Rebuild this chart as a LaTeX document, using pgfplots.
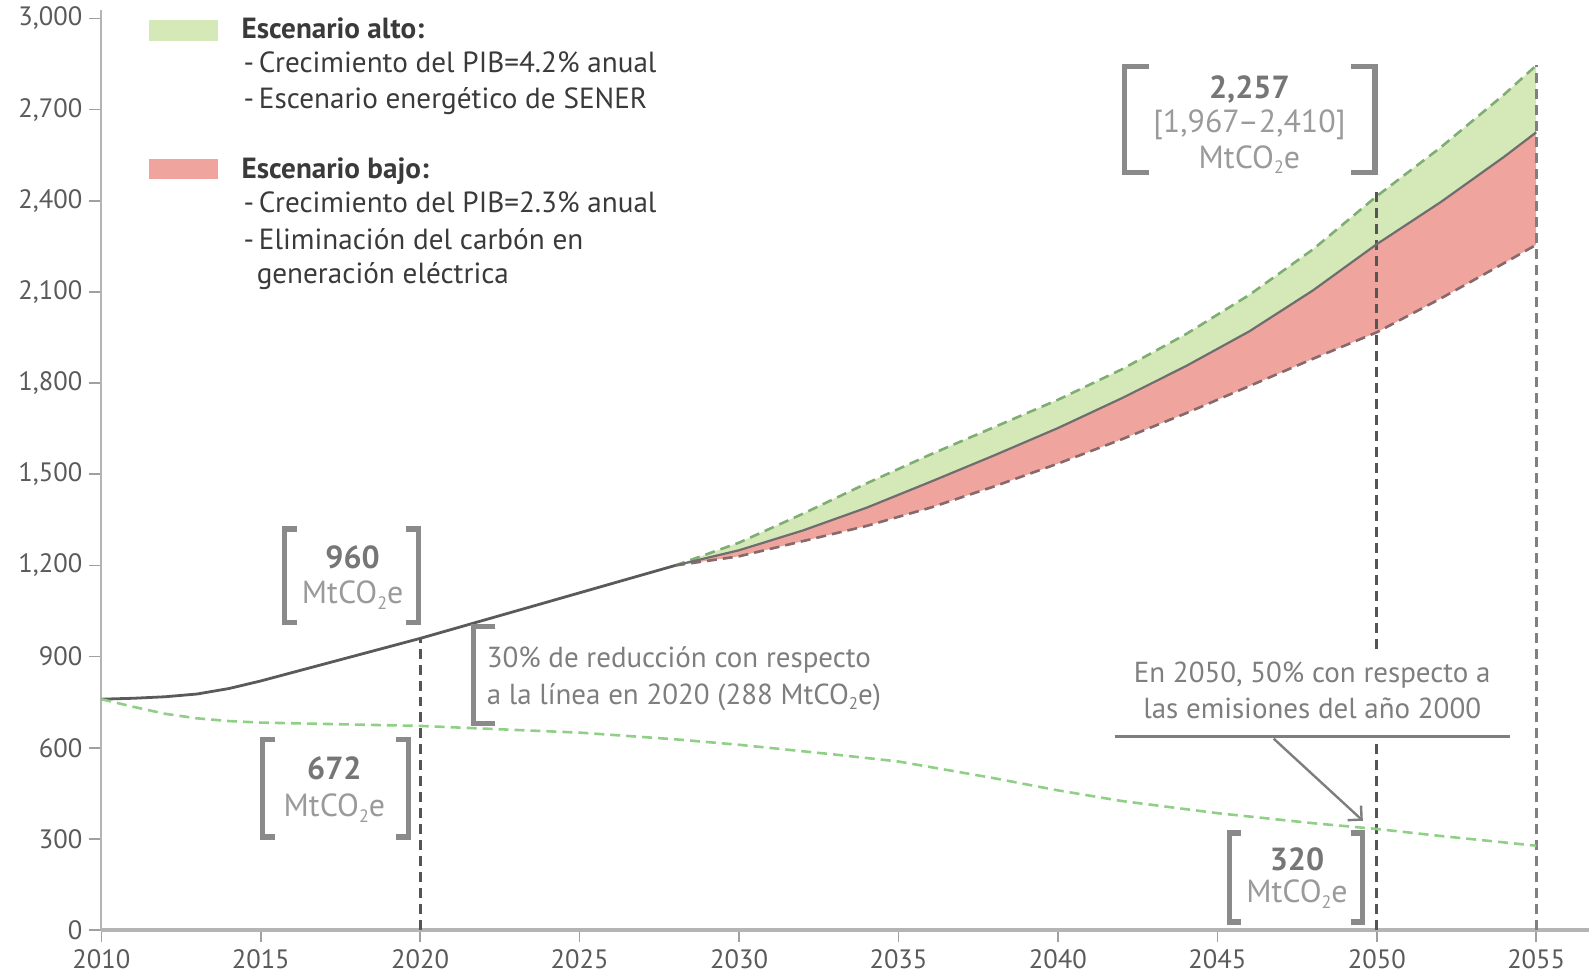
\documentclass[border=0pt]{standalone}
\usepackage{fontspec}
\setmainfont{PT Sans}
\usepackage{pgfplots}
\pgfplotsset{compat=1.18}
\usepgfplotslibrary{fillbetween}
\usetikzlibrary{arrows.meta}

\definecolor{greenfill}{HTML}{D4E8B8}
\definecolor{redfill}{HTML}{EFA59E}
\definecolor{upline}{HTML}{7FAE74}
\definecolor{lowline}{HTML}{86696B}
\definecolor{midline}{HTML}{6E6E6E}
\definecolor{basegray}{HTML}{5A5A5A}
\definecolor{target}{HTML}{8FCF86}
\definecolor{vline}{HTML}{555555}
\definecolor{axisgray}{HTML}{B4B4B4}
\definecolor{tickgray}{HTML}{A0A0A0}
\definecolor{labgray}{HTML}{5A5A5A}
\definecolor{brkgray}{HTML}{8A8A8A}
\definecolor{numgray}{HTML}{767676}
\definecolor{unitgray}{HTML}{9A9A9A}
\definecolor{notegray}{HTML}{7E7E7E}
\definecolor{leggray}{HTML}{3A3A3A}

\pgfplotstableread{
x y
2010 760
2011 763
2012 768
2013 777
2014 795
2015 820
2016 848
2017 876
2018 904
2019 932
2020 960
2021 990
2022 1020
2023 1050
2024 1080
2025 1110
2026 1140
2027 1170
2028 1200
}\basetab

\pgfplotstableread{
x y
2028 1200
2030 1250
2032 1315
2034 1390
2036 1475
2038 1562
2040 1652
2042 1750
2044 1855
2046 1970
2048 2105
2050 2257
2052 2395
2054 2545
2055 2625
}\midtab

\pgfplotstableread{
x y
2028 1200
2030 1275
2032 1370
2034 1470
2036 1565
2038 1655
2040 1745
2042 1845
2044 1960
2046 2090
2048 2240
2050 2415
2052 2575
2054 2750
2055 2845
}\uptab

\pgfplotstableread{
x y
2028 1200
2030 1230
2032 1280
2034 1330
2036 1390
2038 1460
2040 1535
2042 1615
2044 1700
2046 1790
2048 1880
2050 1967
2052 2078
2054 2195
2055 2255
}\lowtab

\pgfplotstableread{
x y
2010 760
2011 735
2012 712
2013 697
2014 688
2015 683
2020 672
2025 650
2028 628
2030 610
2033 578
2035 555
2038 500
2040 460
2042 425
2045 385
2048 352
2050 333
2052 310
2055 278
}\targettab

\newcommand\lbr[4]{\draw[brk] (#1+#4,#2) -- (#1,#2) -- (#1,#3) -- (#1+#4,#3);}
\newcommand\sub{\raisebox{-0.35ex}{\fontsize{9}{9}\selectfont 2}}
\newcommand\subs{\raisebox{-0.35ex}{\fontsize{8.5}{9}\selectfont 2}}

\begin{document}
\begin{tikzpicture}[
  brk/.style={line width=2.6pt, color=brkgray, line cap=butt, line join=miter},
  num/.style={anchor=base, inner sep=0pt, text=numgray, font=\fontsize{16}{19}\selectfont\bfseries},
  unit/.style={anchor=base, inner sep=0pt, text=unitgray, font=\fontsize{16}{19}\selectfont},
  note/.style={anchor=base west, inner sep=0pt, text=notegray, font=\fontsize{14.5}{17}\selectfont},
  notec/.style={anchor=base, inner sep=0pt, text=notegray, font=\fontsize{14.5}{17}\selectfont},
  leg/.style={anchor=base west, inner sep=0pt, text=leggray, font=\fontsize{14.6}{17}\selectfont},
  legh/.style={anchor=base west, inner sep=0pt, text=leggray, font=\fontsize{14.6}{17}\selectfont\bfseries},
]
\begin{scope}[x=0.50734pt,y=-0.50734pt,shift={(-50.734pt,465.74pt)}]
\useasboundingbox (0,0) rectangle (1568,966);
\end{scope}

\begin{axis}[
  at={(0,0)}, anchor=south west,
  scale only axis, width=744.77pt, height=460.66pt,
  xmin=2010, xmax=2056.65, ymin=0, ymax=3027,
  axis x line=bottom, axis y line=left,
  x axis line style={-, line width=2.2pt, color=axisgray},
  y axis line style={-, line width=1pt, color=axisgray},
  xtick={2010,2015,...,2055}, ytick={0,300,...,3000},
  tick align=outside, major tick length=6pt,
  major tick style={line width=0.8pt, color=tickgray},
  /pgf/number format/assume math mode=true,
  xticklabel style={/pgf/number format/1000 sep={}},
  yticklabel style={/pgf/number format/1000 sep={,}},
  tick label style={font=\fontsize{13.3}{16}\selectfont, text=labgray},
  clip=false,
]
\addplot[name path=up, draw=none, forget plot] table[x=x,y=y] {\uptab};
\addplot[name path=mid, draw=none, forget plot] table[x=x,y=y] {\midtab};
\addplot[name path=low, draw=none, forget plot] table[x=x,y=y] {\lowtab};
\addplot[fill=greenfill, draw=none, forget plot] fill between[of=up and mid];
\addplot[fill=redfill, draw=none, forget plot] fill between[of=mid and low];

% vertical reference lines
\addplot[vline, line width=1.4pt, dash pattern=on 5pt off 3pt, forget plot] coordinates {(2020,0) (2020,960)};
\addplot[vline, line width=1.4pt, dash pattern=on 5pt off 3pt, forget plot] coordinates {(2050,0) (2050,635)};
\addplot[vline, line width=1.4pt, dash pattern=on 5pt off 3pt, forget plot] coordinates {(2050,925) (2050,2430)};
\addplot[vline!75, line width=1.4pt, dash pattern=on 5pt off 3pt, forget plot] coordinates {(2055,0) (2055,2845)};

\addplot[upline, line width=1.3pt, dash pattern=on 5pt off 3pt] table[x=x,y=y] {\uptab};
\addplot[lowline, line width=1.3pt, dash pattern=on 5pt off 3pt] table[x=x,y=y] {\lowtab};
\addplot[midline, line width=1.1pt] table[x=x,y=y] {\midtab};
\addplot[basegray, line width=1.4pt] table[x=x,y=y] {\basetab};
\addplot[target, line width=1.3pt, dash pattern=on 5pt off 3pt] table[x=x,y=y] {\targettab};
\end{axis}

\begin{scope}[x=0.50734pt,y=-0.50734pt,shift={(-50.734pt,465.74pt)}]
% legend
\fill[greenfill] (147,20) rectangle (215,40);
\fill[redfill] (147,157) rectangle (215,177);
\node[legh] at (238,38) {Escenario alto:};
\node[leg] at (240,72) {-\,Crecimiento del PIB=4.2\% anual};
\node[leg] at (240,107) {-\,Escenario energético de SENER};
\node[legh] at (238,176) {Escenario bajo:};
\node[leg] at (240,210) {-\,Crecimiento del PIB=2.3\% anual};
\node[leg] at (240,246) {-\,Eliminación del carbón en};
\node[leg] at (253,280) {generación eléctrica};

% 960 bracket
\lbr{281}{522}{614}{12}
\lbr{413}{522}{614}{-12}
\node[num] at (348,561) {960};
\node[unit] at (348,596) {MtCO\sub e};

% 672 bracket
\lbr{259}{730}{826}{12}
\lbr{403}{730}{826}{-12}
\node[num] at (330,769) {672};
\node[unit] at (330,806) {MtCO\sub e};

% 30% bracket
\lbr{467}{618}{714}{22}
\node[note] at (480,659) {30\% de reducción con respecto};
\node[note] at (480,695) {a la línea en 2020 (288 MtCO\subs e)};

% 2,257 bracket
\lbr{1110}{66}{170}{24}
\lbr{1357}{66}{170}{-24}
\node[num] at (1233,97) {2,257};
\node[unit] at (1233,131) {[1,967–2,410]};
\node[unit] at (1233,166) {MtCO\sub e};

% 2050 note
\node[notec] at (1295,674) {En 2050, 50\% con respecto a};
\node[notec] at (1295,709) {las emisiones del año 2000};
\draw[line width=1.5pt, color=notegray] (1100,727) -- (1490,727);
\draw[line width=1.2pt, color=notegray, -{Straight Barb[angle=90:7pt]}] (1257,729) -- (1345,810);

% 320 bracket
\lbr{1213}{822}{910}{12}
\lbr{1345}{822}{910}{-12}
\node[num] at (1280,859) {320};
\node[unit] at (1280,891) {MtCO\sub e};
\end{scope}
\end{tikzpicture}
\end{document}
